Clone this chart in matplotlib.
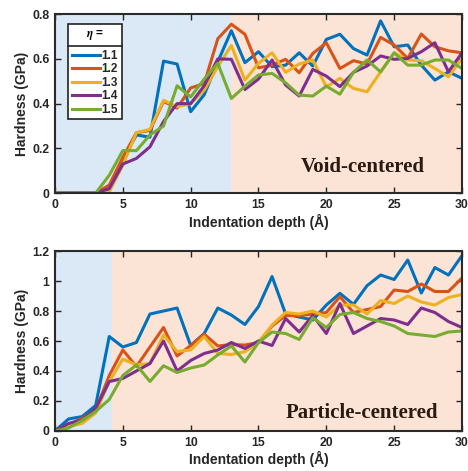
import numpy as np
import matplotlib
matplotlib.use('Agg')
import matplotlib.pyplot as plt
from matplotlib.lines import Line2D

plt.rcParams.update({'font.family': 'Liberation Sans', 'font.weight': 'bold',
                     'mathtext.fontset': 'stix'})

###----------------------------------------------------------------------------
# indentation depth (A)
depth = np.arange(0, 31)
etas = ['1.1', '1.2', '1.3', '1.4', '1.5']
colours = ['#0072BD', '#D95319', '#EDB120', '#7E2F8E', '#77AC30']

# void-centered hardness (GPa)
void_11 = [0, 0, 0, 0, 0.013, 0.15, 0.26, 0.25, 0.59, 0.577, 0.364, 0.44, 0.587, 0.726, 0.583, 0.632,
           0.565, 0.572, 0.627, 0.568, 0.687, 0.71, 0.646, 0.617, 0.77, 0.654, 0.662, 0.572, 0.505, 0.542, 0.513]
void_12 = [0, 0, 0, 0, 0.036, 0.16, 0.27, 0.28, 0.41, 0.38, 0.47, 0.49, 0.69, 0.755, 0.71, 0.56,
           0.572, 0.598, 0.538, 0.624, 0.672, 0.557, 0.592, 0.577, 0.696, 0.662, 0.602, 0.711, 0.654, 0.636, 0.627]
void_13 = [0, 0, 0, 0, 0.006, 0.125, 0.27, 0.285, 0.415, 0.386, 0.40, 0.46, 0.565, 0.66, 0.505, 0.58,
           0.627, 0.54, 0.577, 0.595, 0.475, 0.513, 0.468, 0.453, 0.542, 0.627, 0.595, 0.592, 0.557, 0.52, 0.602]
void_14 = [0, 0, 0, 0, 0.02, 0.13, 0.155, 0.207, 0.32, 0.40, 0.40, 0.48, 0.60, 0.598, 0.463, 0.51,
           0.595, 0.483, 0.434, 0.553, 0.523, 0.476, 0.54, 0.568, 0.613, 0.598, 0.602, 0.632, 0.672, 0.542, 0.627]
void_15 = [0, 0, 0, 0, 0.08, 0.19, 0.19, 0.26, 0.30, 0.48, 0.43, 0.51, 0.58, 0.423, 0.478, 0.528,
           0.535, 0.493, 0.438, 0.434, 0.478, 0.442, 0.54, 0.595, 0.542, 0.627, 0.572, 0.572, 0.595, 0.595, 0.557]

# particle-centered hardness (GPa)
part_11 = [0, 0.08, 0.096, 0.17, 0.63, 0.56, 0.59, 0.78, 0.80, 0.82, 0.57, 0.65, 0.82, 0.773, 0.71, 0.83,
           1.03, 0.78, 0.76, 0.74, 0.84, 0.918, 0.844, 0.969, 1.04, 1.01, 1.14, 0.92, 1.09, 1.04, 1.17]
part_12 = [0, 0.044, 0.084, 0.14, 0.37, 0.54, 0.43, 0.56, 0.69, 0.50, 0.57, 0.645, 0.567, 0.576, 0.573, 0.59,
           0.70, 0.77, 0.77, 0.78, 0.79, 0.896, 0.79, 0.81, 0.83, 0.94, 0.93, 0.98, 0.93, 0.93, 1.02]
part_13 = [0, 0.03, 0.05, 0.12, 0.33, 0.48, 0.44, 0.45, 0.64, 0.53, 0.54, 0.63, 0.517, 0.51, 0.529, 0.59,
           0.707, 0.79, 0.78, 0.80, 0.76, 0.84, 0.84, 0.78, 0.87, 0.85, 0.90, 0.86, 0.84, 0.89, 0.91]
part_14 = [0, 0.05, 0.073, 0.15, 0.33, 0.35, 0.40, 0.45, 0.60, 0.40, 0.47, 0.517, 0.54, 0.59, 0.55, 0.60,
           0.57, 0.75, 0.66, 0.77, 0.65, 0.85, 0.65, 0.70, 0.75, 0.74, 0.71, 0.82, 0.79, 0.73, 0.69]
part_15 = [0, 0.02, 0.07, 0.13, 0.21, 0.37, 0.44, 0.33, 0.435, 0.39, 0.42, 0.44, 0.507, 0.567, 0.46, 0.59,
           0.66, 0.65, 0.61, 0.755, 0.69, 0.777, 0.79, 0.75, 0.73, 0.70, 0.65, 0.64, 0.63, 0.66, 0.667]

void_data = [void_11, void_12, void_13, void_14, void_15]
part_data = [part_11, part_12, part_13, part_14, part_15]

# shaded depth ranges
void_split = 13.0
part_split = 4.2
blue_bg = '#dbe8f5'
peach_bg = '#fbe3d5'
dark = '#262626'

###----------------------------------------------------------------------------
fig = plt.figure(figsize=(4.68, 4.71), dpi=100)
ax1 = fig.add_axes([0.1175, 0.590, 0.8697, 0.380])
ax2 = fig.add_axes([0.1175, 0.085, 0.8697, 0.382])


def style_axes(ax, ymax, yticks, yticklabels):
    ax.set_xlim(0, 30)
    ax.set_ylim(0, ymax)
    ax.set_xticks([0, 5, 10, 15, 20, 25, 30])
    ax.set_xticklabels(['0', '5', '10', '15', '20', '25', '30'])
    ax.set_yticks(yticks)
    ax.set_yticklabels(yticklabels)
    ax.tick_params(direction='in', top=True, right=True, length=4, width=1,
                   colors=dark, labelsize=8.8, pad=4)
    for s in ax.spines.values():
        s.set_linewidth(1.5)
        s.set_color('#2a2a2a')
    ax.set_xlabel('Indentation depth (Å)', fontsize=10, fontweight='bold', color=dark, labelpad=2)
    ax.set_ylabel('Hardness (GPa)', fontsize=10, fontweight='bold', color=dark, labelpad=2)


### void-centered
ax1.axvspan(0, void_split, color=blue_bg, lw=0, zorder=0)
ax1.axvspan(void_split, 30, color=peach_bg, lw=0, zorder=0)
for n in range(len(etas)):
    ax1.plot(depth, void_data[n], '-', linewidth=2.2, color=colours[n], label=etas[n], zorder=2)
style_axes(ax1, 0.8, [0, 0.2, 0.4, 0.6, 0.8], ['0', '0.2', '0.4', '0.6', '0.8'])
ax1.text(0.909, 0.117, 'Void-centered', transform=ax1.transAxes, ha='right', va='baseline',
         fontsize=15, fontweight='bold', family='Liberation Serif', color='#2b1a12')

leg = ax1.legend(title='$\\eta$ =', loc='upper left', bbox_to_anchor=(0.032, 0.944),
                 borderaxespad=0, fancybox=False, framealpha=1, edgecolor='#222222',
                 fontsize=8.5, title_fontsize=8.5, handlelength=2.4, handletextpad=0.15,
                 labelspacing=0.12, borderpad=0.3)
leg.get_frame().set_linewidth(1.2)
leg._legend_box.sep = 6
for t in leg.get_texts():
    t.set_fontweight('bold')
    t.set_color(dark)
for h in leg.get_lines():
    h.set_linewidth(2.2)

### particle-centered
ax2.axvspan(0, part_split, color=blue_bg, lw=0, zorder=0)
ax2.axvspan(part_split, 30, color=peach_bg, lw=0, zorder=0)
for n in range(len(etas)):
    ax2.plot(depth, part_data[n], '-', linewidth=2.2, color=colours[n], zorder=2)
style_axes(ax2, 1.2, [0, 0.2, 0.4, 0.6, 0.8, 1.0, 1.2], ['0', '0.2', '0.4', '0.6', '0.8', '1', '1.2'])
ax2.text(0.941, 0.072, 'Particle-centered', transform=ax2.transAxes, ha='right', va='baseline',
         fontsize=15, fontweight='bold', family='Liberation Serif', color='#2b1a12')

### line under the legend title
fig.canvas.draw()
fb = leg.get_frame().get_window_extent()
tb = leg.get_title().get_window_extent()
eb = leg.get_texts()[0].get_window_extent()
ysep = 0.5 * (tb.y0 + eb.y1)
fig.add_artist(Line2D([fb.x0, fb.x1], [ysep, ysep], transform=None, color='#222222', linewidth=1.2))

fig.savefig('out.png', dpi=100)
